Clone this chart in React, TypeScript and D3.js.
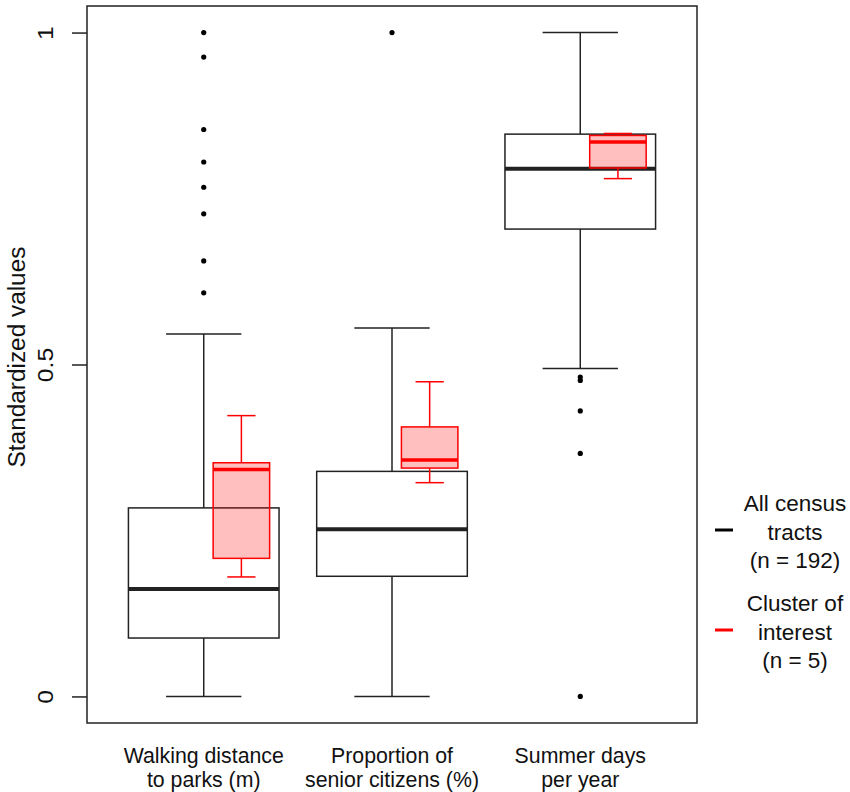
import React, { useEffect, useRef } from 'react';
import * as d3 from 'd3';

// category labels (two lines each)
const categories = [
  ['Walking distance', 'to parks (m)'],
  ['Proportion of', 'senior citizens (%)'],
  ['Summer days', 'per year'],
];

// five-number summaries: [lower whisker, Q1, median, Q3, upper whisker]
const allWalk = [0, 0.088, 0.162, 0.284, 0.546];
const allSenior = [0, 0.181, 0.252, 0.339, 0.555];
const allSummer = [0.494, 0.704, 0.795, 0.847, 1.0];

const clusterWalk = [0.18, 0.208, 0.342, 0.352, 0.423];
const clusterSenior = [0.322, 0.344, 0.356, 0.406, 0.474];
const clusterSummer = [0.78, 0.796, 0.835, 0.845, 0.848];

// outliers of all census tracts
const outWalk = [1.0, 0.963, 0.854, 0.805, 0.767, 0.727, 0.656, 0.608];
const outSenior = [1.0];
const outSummer = [0.481, 0.476, 0.43, 0.366, 0];

const yTicks = [0, 0.5, 1];
const yTickLabels = ['0', '0.5', '1'];

const legendLabels = [
  ['All census', 'tracts', '(n = 192)'],
  ['Cluster of', 'interest', '(n = 5)'],
];

const App = () => {
  const svgRef = useRef<SVGSVGElement>(null);

  useEffect(() => {
    const svg = d3.select(svgRef.current);
    svg.selectAll('*').remove();

    const font = "'Liberation Sans', Arial, sans-serif";
    const left = 87, right = 697, top = 6, bottom = 723;

    const x = d3.scaleLinear().domain([0.38, 3.62]).range([left, right]);
    const y = d3.scaleLinear().domain([-0.04, 1.04]).range([bottom, top]);

    const allStats = [allWalk, allSenior, allSummer];
    const clusterStats = [clusterWalk, clusterSenior, clusterSummer];
    const outliers = [outWalk, outSenior, outSummer];

    const drawBox = (
      g: any, pos: number, s: number[], w: number,
      stroke: string, fill: string, medW: number
    ) => {
      const x0 = x(pos - w / 2), x1 = x(pos + w / 2);
      const cx = x(pos);
      const c0 = x(pos - w / 4), c1 = x(pos + w / 4);
      // whiskers
      g.append('line').attr('x1', cx).attr('x2', cx).attr('y1', y(s[0])).attr('y2', y(s[1]))
        .attr('stroke', stroke).attr('stroke-width', 1.5);
      g.append('line').attr('x1', cx).attr('x2', cx).attr('y1', y(s[3])).attr('y2', y(s[4]))
        .attr('stroke', stroke).attr('stroke-width', 1.5);
      g.append('line').attr('x1', c0).attr('x2', c1).attr('y1', y(s[0])).attr('y2', y(s[0]))
        .attr('stroke', stroke).attr('stroke-width', 1.5);
      g.append('line').attr('x1', c0).attr('x2', c1).attr('y1', y(s[4])).attr('y2', y(s[4]))
        .attr('stroke', stroke).attr('stroke-width', 1.5);
      // box
      g.append('rect')
        .attr('x', x0).attr('y', y(s[3]))
        .attr('width', x1 - x0).attr('height', y(s[1]) - y(s[3]))
        .attr('fill', fill).attr('stroke', stroke).attr('stroke-width', 1.5);
      // median
      g.append('line').attr('x1', x0).attr('x2', x1).attr('y1', y(s[2])).attr('y2', y(s[2]))
        .attr('stroke', stroke).attr('stroke-width', medW);
    };

    const plot = svg.append('g');

    allStats.forEach((s, i) => {
      drawBox(plot, i + 1, s, 0.8, '#222', 'white', 4);
      plot.selectAll(null)
        .data(outliers[i])
        .enter()
        .append('circle')
        .attr('cx', x(i + 1))
        .attr('cy', (d: number) => y(d))
        .attr('r', 2.6)
        .attr('fill', 'black');
    });

    clusterStats.forEach((s, i) => {
      drawBox(plot, i + 1.2, s, 0.3, 'red', 'rgba(255,0,0,0.25)', 3.5);
    });

    // frame
    svg.append('rect')
      .attr('x', left).attr('y', top)
      .attr('width', right - left).attr('height', bottom - top)
      .attr('fill', 'none').attr('stroke', '#222').attr('stroke-width', 1.5);

    // y axis
    const yAxis = svg.append('g')
      .attr('transform', `translate(${left},0)`)
      .call(d3.axisLeft(y).tickValues(yTicks).tickSize(15).tickFormat((d: any, i: number) => yTickLabels[i]));
    yAxis.select('.domain').remove();
    yAxis.selectAll('.tick line').attr('stroke', '#222').attr('stroke-width', 1.5);
    yAxis.selectAll('.tick text')
      .attr('x', null).attr('dy', null)
      .attr('transform', `translate(-34,0) rotate(-90) scale(1.1,1)`)
      .attr('text-anchor', 'middle')
      .attr('font-family', font)
      .attr('font-size', 22.5)
      .attr('fill', '#111');

    // y axis title
    svg.append('text')
      .attr('transform', `translate(25,357) rotate(-90) scale(1.06,1)`)
      .attr('text-anchor', 'middle')
      .attr('font-family', font)
      .attr('font-size', 23)
      .attr('fill', '#111')
      .text('Standardized values');

    // category labels
    categories.forEach((lines, i) => {
      lines.forEach((t, j) => {
        svg.append('text')
          .attr('x', x(i + 1))
          .attr('y', 763 + j * 24)
          .attr('text-anchor', 'middle')
          .attr('font-family', font)
          .attr('font-size', 21.3)
          .attr('fill', '#111')
          .text(t);
      });
    });

    // legend
    const legendColors = ['black', 'red'];
    legendLabels.forEach((lines, i) => {
      const g = svg.append('g').attr('transform', `translate(0,${i * 100})`);
      g.append('line')
        .attr('x1', 715).attr('x2', 733).attr('y1', 530).attr('y2', 530)
        .attr('stroke', legendColors[i]).attr('stroke-width', 3);
      lines.forEach((t, j) => {
        g.append('text')
          .attr('x', 795)
          .attr('y', 511 + j * 28.5)
          .attr('text-anchor', 'middle')
          .attr('font-family', font)
          .attr('font-size', 22.5)
          .attr('fill', '#111')
          .text(t);
      });
    });
  }, []);

  return (
    <svg
      ref={svgRef}
      width={850}
      height={792}
      style={{ position: 'absolute', left: 0, top: 0, background: 'white' }}
    ></svg>
  );
};

export default App;
